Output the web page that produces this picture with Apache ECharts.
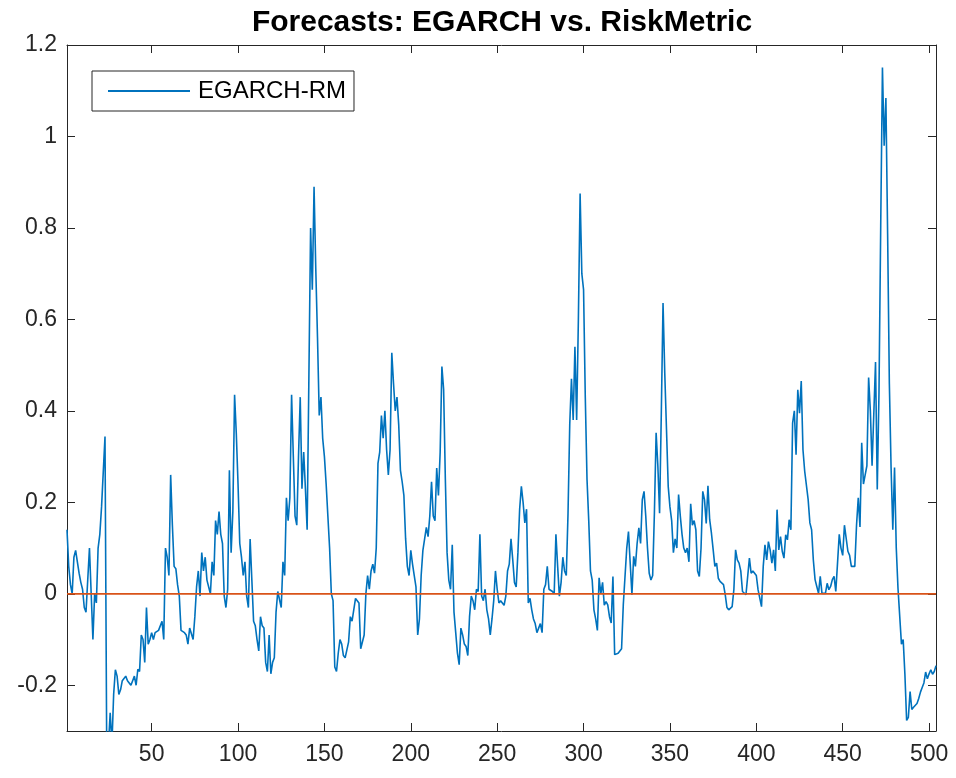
<!DOCTYPE html>
<html>
<head>
<meta charset="utf-8">
<script src="https://cdn.jsdelivr.net/npm/echarts@6/dist/echarts.min.js"></script>
<style>
html,body{margin:0;padding:0;background:#fff;}
#chart{width:956px;height:778px;}
</style>
</head>
<body>
<div id="chart"></div>
<script>
// ---- data ----
const titleText = 'Forecasts: EGARCH vs. RiskMetric';
const seriesName = 'EGARCH-RM';
const xTicks = [50, 100, 150, 200, 250, 300, 350, 400, 450, 500];
const yTicks = [-0.2, 0, 0.2, 0.4, 0.6, 0.8, 1, 1.2];
const xRange = [1, 504];
const yRange = [-0.3, 1.2];
const zeroLineX = [1, 504];
const zeroLineY = [0, 0];
const egarchRM = [
 0.14, 0.06, 0.02, 0.00, 0.08, 0.095, 0.07, 0.045, 0.025, 0.01,
 -0.03, -0.04, 0.03, 0.10, 0.00, -0.10, 0.00, -0.02, 0.10, 0.13,
 0.19, 0.19, 0.344, -0.35, -0.33, -0.26, -0.33, -0.22, -0.166, -0.18,
 -0.22, -0.21, -0.19, -0.185, -0.18, -0.19, -0.195, -0.20, -0.19, -0.18,
 -0.20, -0.165, -0.17, -0.09, -0.10, -0.15, -0.03, -0.11, -0.10, -0.085,
 -0.10, -0.085, -0.085, -0.08, -0.08, -0.06, -0.10, 0.10, 0.08, 0.04,
 0.26, 0.15, 0.06, 0.055, 0.02, -0.005, -0.08, -0.08, -0.085, -0.09,
 -0.11, -0.075, -0.075, -0.10, -0.05, 0.015, 0.05, -0.005, 0.09, 0.05,
 0.08, 0.03, 0.03, 0.00, 0.07, 0.04, 0.16, 0.13, 0.18, 0.13,
 0.11, -0.005, -0.03, 0.01, 0.27, 0.09, 0.18, 0.435, 0.35, 0.24,
 0.11, 0.08, 0.04, 0.07, -0.005, -0.03, 0.12, 0.03, -0.06, -0.07,
 -0.10, -0.125, -0.05, -0.07, -0.075, -0.15, -0.17, -0.09, -0.175, -0.15,
 -0.14, -0.04, 0.005, 0.005, -0.03, 0.07, 0.04, 0.21, 0.16, 0.21,
 0.435, 0.30, 0.17, 0.15, 0.30, 0.43, 0.23, 0.31, 0.23, 0.14,
 0.47, 0.80, 0.665, 0.89, 0.71, 0.56, 0.39, 0.43, 0.34, 0.30,
 0.24, 0.17, 0.10, 0.00, -0.015, -0.16, -0.17, -0.13, -0.10, -0.11,
 -0.135, -0.14, -0.14, -0.105, -0.05, -0.06, -0.06, -0.01, -0.015, -0.02,
 -0.12, -0.12, -0.09, 0.00, 0.04, 0.01, 0.05, 0.065, 0.045, 0.10,
 0.285, 0.31, 0.39, 0.34, 0.40, 0.315, 0.26, 0.315, 0.527, 0.46,
 0.40, 0.43, 0.37, 0.27, 0.245, 0.215, 0.12, 0.06, 0.04, 0.095,
 0.065, 0.04, 0.015, -0.09, -0.055, 0.04, 0.095, 0.12, 0.145, 0.125,
 0.17, 0.245, 0.17, 0.16, 0.275, 0.215, 0.31, 0.497, 0.447, 0.25,
 0.09, 0.03, 0.01, 0.107, -0.04, -0.085, -0.13, -0.155, -0.075, -0.09,
 -0.11, -0.115, -0.135, -0.05, -0.005, -0.015, -0.035, 0.01, 0.005, 0.13,
 -0.005, -0.015, 0.01, -0.035, -0.055, -0.09, -0.055, -0.015, 0.05, 0.01,
 -0.02, -0.015, -0.015, -0.025, -0.005, 0.05, 0.065, 0.12, 0.075, 0.025,
 0.015, 0.09, 0.185, 0.235, 0.20, 0.155, 0.185, -0.02, -0.01, -0.035,
 -0.055, -0.065, -0.085, -0.075, -0.065, -0.085, 0.01, 0.02, 0.06, 0.01,
 0.01, 0.005, 0.00, 0.13, 0.06, -0.005, 0.025, 0.08, 0.05, 0.04,
 0.175, 0.37, 0.47, 0.38, 0.54, 0.38, 0.60, 0.875, 0.70, 0.665,
 0.43, 0.25, 0.16, 0.05, 0.03, -0.035, -0.055, -0.08, 0.035, 0.00,
 0.025, -0.025, -0.017, -0.024, -0.05, -0.064, 0.038, -0.133, -0.13, -0.13,
 -0.125, -0.12, -0.024, -0.024, 0.10, 0.136, 0.067, -0.002, 0.082, 0.06,
 0.11, 0.144, 0.11, 0.206, 0.224, 0.17, 0.10, 0.045, 0.03, 0.04,
 0.176, 0.352, 0.28, 0.176, 0.395, 0.636, 0.483, 0.36, 0.235, 0.19,
 0.16, 0.09, 0.12, 0.10, 0.217, 0.17, 0.13, 0.10, 0.09, 0.10,
 0.07, 0.197, 0.15, 0.16, 0.14, 0.05, 0.038, 0.10, 0.224, 0.206,
 0.154, 0.236, 0.162, 0.133, 0.097, 0.06, 0.067, 0.034, 0.027, 0.023,
 0.02, -0.002, -0.03, -0.035, -0.035, -0.028, 0.009, 0.096, 0.074, 0.067,
 0.05, 0.005, 0.001, -0.002, 0.001, 0.078, 0.045, 0.05, 0.045, 0.04,
 0.009, 0.009, -0.028, 0.06, 0.107, 0.074, 0.114, 0.096, 0.067, 0.096,
 0.05, 0.184, 0.096, 0.125, 0.093, 0.078, 0.129, 0.118, 0.162, 0.14,
 0.373, 0.40, 0.304, 0.446, 0.395, 0.465, 0.315, 0.268, 0.264, 0.206,
 0.155, 0.14, 0.074, 0.031, 0.016, 0.001, 0.038, 0.001, 0.001, 0.001,
 0.023, 0.009, 0.016, 0.031, 0.038, 0.005, 0.067, 0.13, 0.10, 0.084,
 0.15, 0.146, 0.093, 0.084, 0.06, 0.06, 0.06, 0.15, 0.21, 0.146,
 0.33, 0.24, 0.26, 0.28, 0.473, 0.40, 0.28, 0.276, 0.507, 0.228,
 0.44, 0.805, 1.151, 0.98, 1.084, 0.786, 0.46, 0.276, 0.14, 0.276,
 0.10, 0.012, 0.012, -0.11, -0.10, -0.176, -0.277, -0.27, -0.214, -0.253,
 -0.248, -0.248, -0.24, -0.229, -0.215, -0.205, -0.195, -0.171, -0.186, -0.175,
 -0.166, -0.176, -0.17, -0.157
];

// ---- chart ----
const FONT = '"Liberation Sans", Arial, Helvetica, sans-serif';
const AX = '#262626';
const lineData = egarchRM.map((v, k) => [k + 1, v]);
const zeroData = zeroLineX.map((x, k) => [x, zeroLineY[k]]);
const fmt = v => String(Math.round(v * 10) / 10);

const chart = echarts.init(document.getElementById('chart'), null, {renderer: 'canvas'});

const baseX = {
  type: 'value', min: xRange[0], max: xRange[1],
  axisLine: {show: true, onZero: false, lineStyle: {color: AX, width: 1}},
  splitLine: {show: false}
};
const baseY = {
  type: 'value', min: yRange[0], max: yRange[1],
  axisLine: {show: true, onZero: false, lineStyle: {color: AX, width: 1}},
  splitLine: {show: false}
};

chart.setOption({
  animation: false,
  backgroundColor: '#ffffff',
  title: {
    text: titleText,
    left: 497, top: 3, textAlign: 'center',
    textStyle: {fontFamily: FONT, fontWeight: 'bold', fontSize: 30, color: '#000'}
  },
  legend: {
    data: [{name: seriesName, icon: 'rect'}],
    left: 92, top: 71,
    orient: 'vertical',
    backgroundColor: '#fff',
    borderColor: AX, borderWidth: 1, borderRadius: 0,
    padding: [8, 8, 8, 16],
    itemWidth: 82, itemHeight: 2, itemGap: 0,
    itemStyle: {color: '#0072BD', borderWidth: 0},
    textStyle: {fontFamily: FONT, fontSize: 24, color: '#000', padding: [0, 0, 0, 3]},
    selectedMode: false
  },
  grid: {left: 67, top: 45, width: 869, height: 686, containLabel: false},
  xAxis: [
    Object.assign({}, baseX, {
      position: 'bottom',
      axisTick: {show: true, inside: true, length: 8, customValues: xTicks, lineStyle: {color: AX}},
      axisLabel: {show: true, customValues: xTicks, margin: 12, color: '#262626',
                  fontFamily: FONT, fontSize: 23, formatter: v => String(v)}
    }),
    Object.assign({}, baseX, {
      position: 'top',
      axisTick: {show: true, inside: true, length: 8, customValues: xTicks, lineStyle: {color: AX}},
      axisLabel: {show: false}
    })
  ],
  yAxis: [
    Object.assign({}, baseY, {
      position: 'left',
      axisTick: {show: true, inside: true, length: 8, customValues: yTicks, lineStyle: {color: AX}},
      axisLabel: {show: true, customValues: yTicks, margin: 10, color: '#262626',
                  fontFamily: FONT, fontSize: 23, formatter: fmt}
    }),
    Object.assign({}, baseY, {
      position: 'right',
      axisTick: {show: true, inside: true, length: 8, customValues: yTicks, lineStyle: {color: AX}},
      axisLabel: {show: false}
    })
  ],
  series: [
    {
      name: 'zero', type: 'line', data: zeroData,
      xAxisIndex: 0, yAxisIndex: 0,
      symbol: 'none', silent: true,
      lineStyle: {color: '#D95319', width: 1.8},
      z: 3
    },
    {
      name: seriesName, type: 'line', data: lineData,
      xAxisIndex: 0, yAxisIndex: 0,
      symbol: 'none', clip: true,
      lineStyle: {color: '#0072BD', width: 1.6},
      itemStyle: {color: '#0072BD'},
      z: 2
    }
  ]
});
</script>
</body>
</html>
